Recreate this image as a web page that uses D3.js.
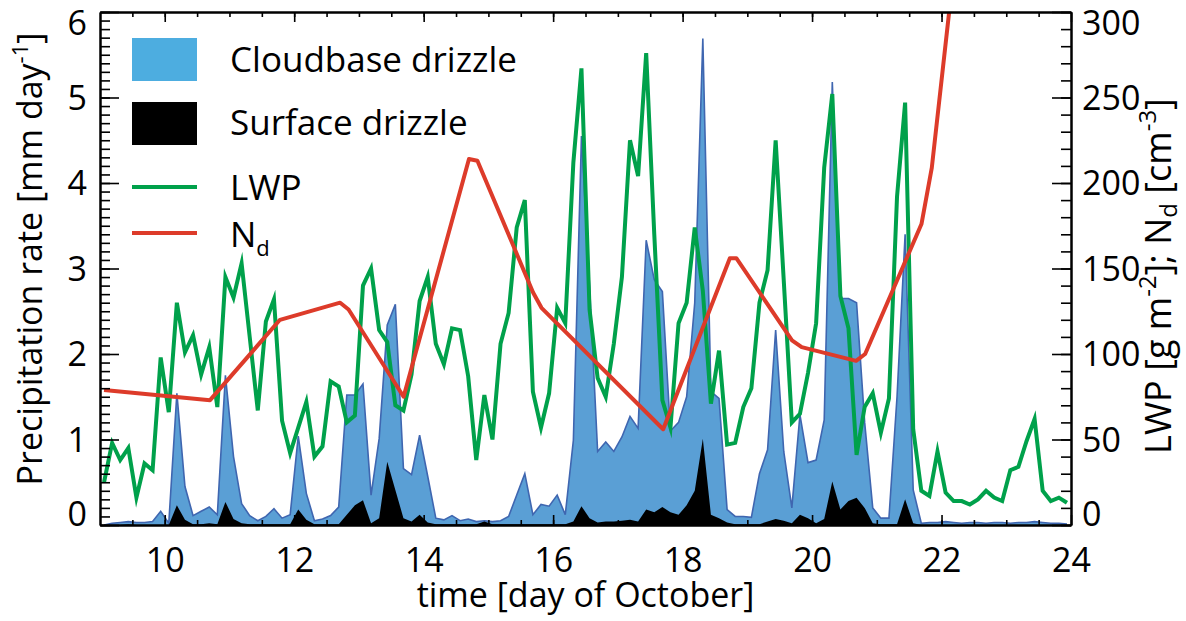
<!DOCTYPE html>
<html><head><meta charset="utf-8">
<script src="https://cdn.jsdelivr.net/npm/d3@7"></script>
<style>
html,body{margin:0;padding:0;background:#fff;}
svg{display:block;font-family:"Open Sans",sans-serif;}
</style></head><body>
<svg id="chart" width="1186" height="621"></svg>
<script>
// ---- data (3-hourly samples, day of October) ----
const times = [
 9.0625, 9.1875, 9.3125, 9.4375, 9.5625, 9.6875, 9.8125, 9.9375,
 10.0625,10.1875,10.3125,10.4375,10.5625,10.6875,10.8125,10.9375,
 11.0625,11.1875,11.3125,11.4375,11.5625,11.6875,11.8125,11.9375,
 12.0625,12.1875,12.3125,12.4375,12.5625,12.6875,12.8125,12.9375,
 13.0625,13.1875,13.3125,13.4375,13.5625,13.6875,13.8125,13.9375,
 14.0625,14.1875,14.3125,14.4375,14.5625,14.6875,14.8125,14.9375,
 15.0625,15.1875,15.3125,15.4375,15.5625,15.6875,15.8125,15.9375,
 16.0625,16.1875,16.3125,16.4375,16.5625,16.6875,16.8125,16.9375,
 17.0625,17.1875,17.3125,17.4375,17.5625,17.6875,17.8125,17.9375,
 18.0625,18.1875,18.3125,18.4375,18.5625,18.6875,18.8125,18.9375,
 19.0625,19.1875,19.3125,19.4375,19.5625,19.6875,19.8125,19.9375,
 20.0625,20.1875,20.3125,20.4375,20.5625,20.6875,20.8125,20.9375,
 21.0625,21.1875,21.3125,21.4375,21.5625,21.6875,21.8125,21.9375,
 22.0625,22.1875,22.3125,22.4375,22.5625,22.6875,22.8125,22.9375,
 23.0625,23.1875,23.3125,23.4375,23.5625,23.6875,23.8125,23.9375];

const cloudbase = [
 0.00,0.02,0.03,0.04,0.03,0.03,0.04,0.16,
 0.02,1.54,0.45,0.11,0.16,0.21,0.12,1.75,
 0.80,0.25,0.11,0.05,0.10,0.19,0.08,0.12,
 1.04,0.37,0.05,0.07,0.11,0.21,1.52,1.52,
 1.65,0.35,1.01,2.34,2.58,0.66,0.59,1.05,
 0.57,0.08,0.06,0.11,0.05,0.07,0.04,0.05,
 0.04,0.05,0.10,0.35,0.60,0.12,0.24,0.22,
 0.35,0.12,0.99,4.55,2.80,0.86,0.97,0.86,
 1.03,1.27,1.13,3.33,2.87,2.73,1.10,1.20,
 1.50,2.60,5.69,1.56,1.48,0.18,0.10,0.10,
 0.09,0.60,0.88,2.28,0.86,0.20,1.29,0.73,
 0.76,1.23,5.18,2.65,2.65,2.60,1.20,0.20,
 0.08,0.08,1.50,3.40,0.41,0.02,0.03,0.03,
 0.04,0.03,0.02,0.03,0.03,0.02,0.03,0.03,
 0.02,0.03,0.03,0.04,0.03,0.02,0.02,0.01];

const surface = [
 0.00,0.00,0.00,0.01,0.00,0.00,0.00,0.00,
 0.00,0.23,0.06,0.01,0.01,0.02,0.01,0.27,
 0.07,0.02,0.01,0.01,0.01,0.01,0.01,0.01,
 0.18,0.06,0.01,0.01,0.01,0.01,0.12,0.23,
 0.29,0.02,0.08,0.74,0.41,0.08,0.04,0.12,
 0.03,0.01,0.01,0.01,0.01,0.01,0.01,0.04,
 0.01,0.01,0.01,0.01,0.01,0.01,0.01,0.01,
 0.01,0.01,0.04,0.22,0.08,0.03,0.04,0.04,
 0.05,0.06,0.04,0.18,0.15,0.21,0.15,0.12,
 0.23,0.40,1.01,0.12,0.08,0.03,0.01,0.01,
 0.01,0.01,0.04,0.07,0.05,0.02,0.12,0.08,
 0.02,0.07,0.51,0.18,0.28,0.32,0.20,0.02,
 0.01,0.01,0.01,0.30,0.02,0.00,0.00,0.00,
 0.00,0.00,0.00,0.00,0.00,0.00,0.00,0.00,
 0.00,0.00,0.00,0.00,0.00,0.00,0.00,0.00];

const lwp = [
 25,48,38,45,16,36,32,98,
 66,130,101,111,88,104,69,145,
 133,153,110,67,119,132,61,42,
 57,72,40,46,84,81,60,64,
 140,150,114,107,70,67,88,131,
 145,106,94,115,114,87,38,76,
 50,106,124,174,190,78,57,77,
 127,118,212,267,126,86,75,106,
 145,225,204,276,170,73,57,118,
 130,174,137,71,102,47,48,69,
 80,130,149,225,143,60,65,89,
 118,209,252,134,115,41,69,77,
 54,74,192,247,56,20,17,43,
 19,14,14,12,15,20,16,14,
 32,34,49,62,20,14,16,13];

const ndTimes  = [9.0625,10.70,11.78,12.71,12.84,13.69,14.70,14.83,15.69,15.82,17.70,18.73,18.83,19.69,19.84,20.68,20.82,21.69,21.85,22.30];
const ndValues = [79,    73,   120,  130,  126,  75,   214,  213,  136,  127,  56,   156,  156,  108,  104,  96,   100,  176,  209,  362];

const xTickLabels = [10,12,14,16,18,20,22,24];
const yLeftTickLabels = [0,1,2,3,4,5,6];
const yRightTickLabels = [0,50,100,150,200,250,300];
const legendLabels = ["Cloudbase drizzle","Surface drizzle","LWP","N"];

// ---- layout ----
const P = {left:100, right:1071, top:12, bottom:525};
const FONT = "'Open Sans', sans-serif";
const svg = d3.select("#chart");

const x  = d3.scaleLinear().domain([9,24]).range([P.left,P.right]);
const y  = d3.scaleLinear().domain([0,6]).range([P.bottom,P.top]);
const y2 = d3.scaleLinear().domain([0,300]).range([P.bottom,P.top]);

svg.append("defs").append("clipPath").attr("id","plotclip")
  .append("rect").attr("x",P.left).attr("y",P.top)
  .attr("width",P.right-P.left).attr("height",P.bottom-P.top);

const plot = svg.append("g").attr("clip-path","url(#plotclip)");

const cbData = times.map((t,i)=>({t, v:cloudbase[i]}));
const sfData = times.map((t,i)=>({t, v:surface[i]}));
const lwpData = times.map((t,i)=>({t, v:lwp[i]}));
const ndData = ndTimes.map((t,i)=>({t, v:ndValues[i]}));

const area = d3.area().x(d=>x(d.t)).y0(y(0)).y1(d=>y(d.v));
const line1 = d3.line().x(d=>x(d.t)).y(d=>y(d.v));
const line2 = d3.line().x(d=>x(d.t)).y(d=>y2(d.v));

plot.append("path").datum(cbData).attr("d",area).attr("fill","#5a9fd5");
plot.append("path").datum(cbData).attr("d",line1).attr("fill","none")
  .attr("stroke","#3f66b0").attr("stroke-width",1.6).attr("stroke-linejoin","miter");
plot.append("path").datum(sfData).attr("d",area).attr("fill","#000");
plot.append("path").datum(lwpData).attr("d",line2).attr("fill","none")
  .attr("stroke","#00a14b").attr("stroke-width",4).attr("stroke-linejoin","miter").attr("stroke-miterlimit",6);
plot.append("path").datum(ndData).attr("d",line2).attr("fill","none")
  .attr("stroke","#dd3b2a").attr("stroke-width",4).attr("stroke-linejoin","round");

// ---- axes ----
function style(g, labels){
  g.attr("font-family",FONT).attr("font-size",34);
  g.select("path.domain").attr("stroke","#000").attr("stroke-width",2);
  g.selectAll(".tick line").attr("stroke","#000").attr("stroke-width",1.6);
  g.selectAll("text").attr("fill","#000");
  if(!labels) g.selectAll("text").remove();
  return g;
}
const xMinor = d3.range(9.5,24,0.5);
const yMinor = d3.range(0,6.001,0.1);
const y2Minor = d3.range(0,300.1,10);

// bottom
style(svg.append("g").attr("transform",`translate(0,${P.bottom})`)
  .call(d3.axisBottom(x).tickValues(xMinor).tickSize(-5).tickSizeOuter(0).tickFormat("")), false);
style(svg.append("g").attr("transform",`translate(0,${P.bottom})`)
  .call(d3.axisBottom(x).tickValues(xTickLabels).tickSize(-10).tickSizeOuter(0).tickPadding(23).tickFormat(d3.format("d"))), true);
// top
style(svg.append("g").attr("transform",`translate(0,${P.top})`)
  .call(d3.axisTop(x).tickValues(xMinor).tickSize(-5).tickSizeOuter(0).tickFormat("")), false);
style(svg.append("g").attr("transform",`translate(0,${P.top})`)
  .call(d3.axisTop(x).tickValues(xTickLabels).tickSize(-10).tickSizeOuter(0).tickFormat("")), false);
// left
style(svg.append("g").attr("transform",`translate(${P.left},0)`)
  .call(d3.axisLeft(y).tickValues(yMinor).tickSize(-10).tickSizeOuter(0).tickFormat("")), false);
const gl = style(svg.append("g").attr("transform",`translate(${P.left},0)`)
  .call(d3.axisLeft(y).tickValues(yLeftTickLabels).tickSize(-19).tickSizeOuter(0).tickPadding(13).tickFormat(d3.format("d"))), true);
// right
style(svg.append("g").attr("transform",`translate(${P.right},0)`)
  .call(d3.axisRight(y2).tickValues(y2Minor).tickSize(-10).tickSizeOuter(0).tickFormat("")), false);
const gr = style(svg.append("g").attr("transform",`translate(${P.right},0)`)
  .call(d3.axisRight(y2).tickValues(yRightTickLabels).tickSize(-19).tickSizeOuter(0).tickPadding(11).tickFormat(d3.format("d"))), true);
// keep end labels inside the axis span
[gl,gr].forEach(g=>{
  g.selectAll(".tick text").attr("dy", d => (d===0 ? "0em" : (d===6||d===300) ? "0.66em" : "0.35em"));
});

// ---- titles ----
svg.append("text").attr("x",(P.left+P.right)/2).attr("y",607)
  .attr("text-anchor","middle").attr("font-family",FONT).attr("font-size",34)
  .text("time [day of October]");

const lt = svg.append("text").attr("transform",`translate(42,259) rotate(-90)`)
  .attr("text-anchor","middle").attr("font-family",FONT).attr("font-size",34);
lt.append("tspan").text("Precipitation rate [mm day");
lt.append("tspan").attr("font-size",22).attr("dy",-14).text("-1");
lt.append("tspan").attr("dy",14).text("]");

const rt = svg.append("text").attr("transform",`translate(1171,276) rotate(-90)`)
  .attr("text-anchor","middle").attr("font-family",FONT).attr("font-size",36);
rt.append("tspan").text("LWP [g m");
rt.append("tspan").attr("font-size",24).attr("dy",-15).text("-2");
rt.append("tspan").attr("dy",15).text("]; N");
rt.append("tspan").attr("font-size",24).attr("dy",6).text("d");
rt.append("tspan").attr("dy",-6).text(" [cm");
rt.append("tspan").attr("font-size",24).attr("dy",-15).text("-3");
rt.append("tspan").attr("dy",15).text("]");

// ---- legend ----
const L = svg.append("g").attr("font-family",FONT).attr("font-size",35);
L.append("rect").attr("x",132).attr("y",38).attr("width",65).attr("height",43).attr("fill","#4dade0");
L.append("rect").attr("x",132).attr("y",102).attr("width",65).attr("height",43).attr("fill","#000");
L.append("line").attr("x1",132).attr("x2",197).attr("y1",187).attr("y2",187).attr("stroke","#00a14b").attr("stroke-width",4);
L.append("line").attr("x1",132).attr("x2",197).attr("y1",233).attr("y2",233).attr("stroke","#dd3b2a").attr("stroke-width",4);
L.append("text").attr("x",230).attr("y",72).text(legendLabels[0]);
L.append("text").attr("x",230).attr("y",135).text(legendLabels[1]);
L.append("text").attr("x",230).attr("y",200).text(legendLabels[2]);
const nd = L.append("text").attr("x",230).attr("y",247);
nd.append("tspan").text(legendLabels[3]);
nd.append("tspan").attr("font-size",22).attr("dy",9).text("d");
</script>
</body></html>
